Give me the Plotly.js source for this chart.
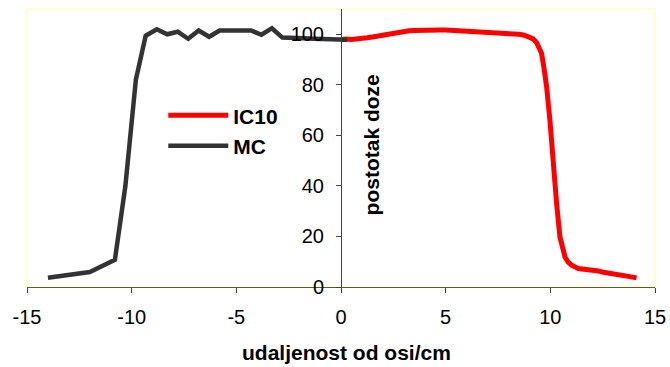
<!DOCTYPE html>
<html>
<head>
<meta charset="utf-8">
<script src="https://cdn.plot.ly/plotly-3.0.1.min.js"></script>
<style>html,body{margin:0;padding:0;background:#fff;}#chart{width:670px;height:367px;}</style>
</head>
<body>
<div id="chart"></div>
<script>
// IC10 measured profile (distance from axis in cm, % dose)
var ic10X = [0.0, 0.25, 0.5, 0.75, 1.0, 1.25, 1.5, 1.75, 2.0, 2.25, 2.5, 2.75, 3.0, 3.25, 3.5, 3.75, 4.0, 4.25, 4.5, 4.75, 5.0, 5.25, 5.5, 5.75, 6.0, 6.25, 6.5, 6.75, 7.0, 7.25, 7.5, 7.75, 8.0, 8.25, 8.5, 8.75, 9.0, 9.18, 9.35, 9.5, 9.58, 9.7, 9.82, 9.98, 10.14, 10.3, 10.46, 10.58, 10.7, 10.85, 11.02, 11.33, 11.6, 11.9, 12.3, 12.6, 13.0, 13.4, 13.8, 14.12];
var ic10Y = [97.8, 98.1, 97.9, 98.3, 98.2, 98.6, 98.9, 99.3, 99.7, 100.2, 100.5, 100.9, 101.1, 101.4, 101.5, 101.6, 101.8, 101.7, 101.9, 101.7, 101.7, 101.6, 101.5, 101.4, 101.2, 101.2, 101.0, 101.0, 100.9, 100.8, 100.7, 100.5, 100.4, 100.2, 100.0, 99.6, 98.9, 98.2, 96.6, 94.5, 92.5, 86.5, 79.3, 66.1, 46.3, 33.0, 19.8, 15.0, 11.9, 9.8, 8.6, 7.3, 7.1, 6.9, 6.3, 5.7, 5.0, 4.6, 4.1, 3.6];

// MC simulated profile
var mcX = [-14.0, -12.0, -10.8, -10.3, -9.8, -9.33, -8.8, -8.3, -7.8, -7.3, -6.8, -6.3, -5.8, -5.3, -4.8, -4.3, -3.8, -3.3, -2.8, -2.3, -1.8, -1.3, -0.8, -0.3, 0.3];
var mcY = [3.7, 5.9, 10.8, 40.0, 82.0, 99.4, 102.0, 100.0, 101.0, 98.2, 101.5, 99.0, 101.5, 101.4, 101.4, 101.5, 99.8, 102.4, 98.7, 98.7, 98.4, 98.2, 98.0, 97.8, 97.8];

var xTickVals = [-15, -10, -5, 0, 5, 10, 15];
var xTickText = ["-15", "-10", "-5", "0", "5", "10", "15"];
var yTickVals = [0, 20, 40, 60, 80, 100];

var seriesNames = ["IC10", "MC"];
var seriesColors = ["#FF0000", "#333333"];

var traces = [
  {x: ic10X, y: ic10Y, type: "scatter", mode: "lines", name: seriesNames[0],
   legendgroup: "a", line: {color: seriesColors[0], width: 5}},
  {x: mcX, y: mcY, type: "scatter", mode: "lines", name: seriesNames[1],
   legendgroup: "b", line: {color: seriesColors[1], width: 4.5}}
];

var layout = {
  width: 670, height: 367,
  margin: {l: 27, r: 15, t: 9, b: 80, pad: 0},
  paper_bgcolor: "#ffffff", plot_bgcolor: "#ffffff",
  font: {family: "Liberation Sans, Arial, sans-serif", color: "#000000", size: 20},
  showlegend: true,
  legend: {x: 0.217, y: 0.69, xanchor: "left", yanchor: "top", bgcolor: "rgba(0,0,0,0)",
           font: {size: 21, family: "Liberation Sans, Arial, sans-serif", weight: "bold"},
           tracegroupgap: 6, itemwidth: 60, traceorder: "normal"},
  xaxis: {range: [-15, 15], tickvals: xTickVals, ticktext: xTickText, ticks: "outside", ticklen: 5,
          tickcolor: "#444", showline: true, linecolor: "#5a5a3c", linewidth: 1, ticklabelstandoff: 7,
          showgrid: false, zeroline: false, fixedrange: true, tickfont: {size: 20}},
  yaxis: {range: [0, 110], tickvals: yTickVals, ticks: "outside", ticklen: 5, tickcolor: "#444",
          anchor: "free", position: 0.5, side: "left", showline: true, linecolor: "#444", linewidth: 1,
          ticklabelstandoff: 8,
          showgrid: false, zeroline: false, fixedrange: true, tickfont: {size: 20}},
  shapes: [
    {type: "rect", xref: "paper", yref: "paper", x0: 0, x1: 1, y0: 0, y1: 1,
     line: {color: "#FFFFC4", width: 1.5}, layer: "below"}
  ],
  annotations: [
    {text: "<b>udaljenost od osi/cm</b>", xref: "paper", yref: "paper", x: 0.509, y: -0.236,
     xanchor: "center", yanchor: "middle", showarrow: false, font: {size: 21}},
    {text: "<b>postotak doze</b>", xref: "paper", yref: "paper", x: 0.549, y: 0.512,
     xanchor: "center", yanchor: "middle", showarrow: false, textangle: -90, font: {size: 21}}
  ]
};

Plotly.newPlot("chart", traces, layout, {displayModeBar: false, staticPlot: true});
</script>
</body>
</html>
